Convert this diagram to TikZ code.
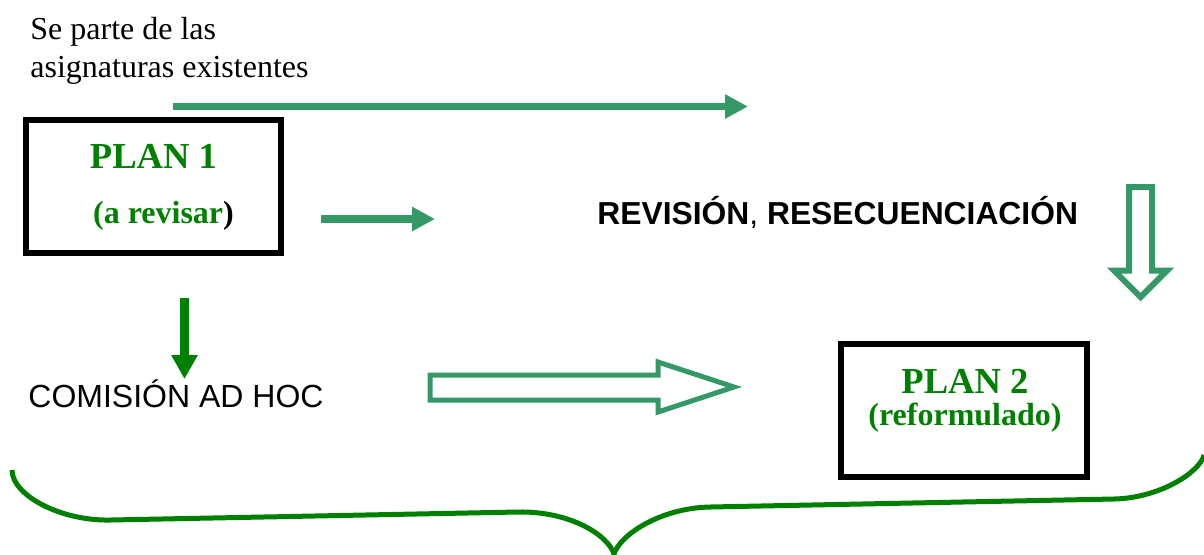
\documentclass[tikz,border=0pt]{standalone}
\usepackage{fontspec}
\setmainfont{Liberation Serif}
\setsansfont{Liberation Sans}
\usetikzlibrary{positioning, arrows.meta}
\definecolor{seagreen}{RGB}{52,153,102}
\definecolor{darkgreen}{RGB}{0,128,0}

\begin{document}
\begin{tikzpicture}[
            x = 0.5pt, y = -0.5pt,
            planbox/.style = {rectangle, draw, line width=3pt, minimum width=127.5pt, minimum height=66.5pt, inner sep=0pt},
            plantitle/.style = {font=\fontsize{18.3}{20}\selectfont\bfseries, text=darkgreen, inner sep=0pt, anchor=base},
            plansub/.style = {font=\fontsize{16}{19}\selectfont\bfseries, text=darkgreen, inner sep=0pt, anchor=base},
            plaintext/.style = {font=\fontsize{16}{19}\selectfont, inner sep=0pt},
            flow/.style = {seagreen, line width=3.5pt, -{Triangle[length=11.5pt, width=11.5pt]}},
            hollow/.style = {seagreen, line width=2.5pt, fill=white, line join=miter}
        ]
            \useasboundingbox (0,0) rectangle (1204,554);

            % Boxes
            \node[planbox] (P1) at (153.5,186.5) {};
            \node[planbox, minimum width=123pt] (P2) at (964,410.5) {};
            \node[plantitle] (P1t) at (153.5,168) {PLAN 1};
            \node[plansub] (P1s) at (163.5,223) {(a revisar\textcolor{black}{)}};
            \node[plantitle] (P2t) at (965,393) {PLAN 2};
            \node[plansub] (P2s) at (965,425) {(reformulado)};

            % Texts
            \node[plaintext, align=left, anchor=north west] (origen) at (30,17) {Se parte de las\\asignaturas existentes};
            \node[plaintext, font=\fontsize{15.9}{19}\selectfont\sffamily, anchor=base west] (revision) at (597,224) {\textbf{REVISIÓN}, \textbf{RESECUENCIACIÓN}};
            \node[plaintext, font=\fontsize{16}{19}\selectfont\sffamily, anchor=base west] (comision) at (28,407) {COMISIÓN AD HOC};

            % Arrow ends
            \coordinate (a1) at (173,106.5);
            \coordinate (a2) at (748,106.5);
            \coordinate (b1) at (321,219);
            \coordinate (b2) at (435,219);
            \coordinate (c1) at (184.5,298);
            \coordinate (c2) at (184.5,379);

            % Filled arrows
            \draw[flow] (a1) -- (a2);
            \draw[flow, line width=4pt] (b1) -- (b2);
            \draw[flow, darkgreen, line width=4.5pt, -{Triangle[length=12pt, width=12.5pt]}] (c1) -- (c2);

            % Hollow arrows
            \draw[hollow] (430,375) -- (658,375) -- (658,362) -- (734,387) -- (658,412) -- (658,400) -- (430,400) -- cycle;
            \draw[hollow, line width=3pt] (1129,187) -- (1152,187) -- (1152,270.5) -- (1167,270.5) -- (1140.5,297) -- (1114,270.5) -- (1129,270.5) -- cycle;

            % Brace
            \draw[darkgreen, line width=2.5pt] (12,470) .. controls (12,495) and (60,521) .. (110,520)
                -- (518,512) .. controls (570,511) and (608,535) .. (614,554)
                .. controls (620,535) and (660,508) .. (710,507)
                -- (1114,499) .. controls (1160,498) and (1200,472) .. (1204,455);

        \end{tikzpicture}
\end{document}
